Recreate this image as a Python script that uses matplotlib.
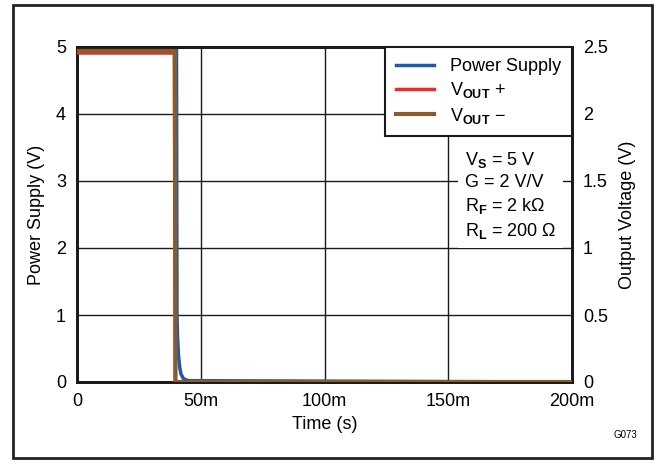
import matplotlib
matplotlib.use("Agg")
import matplotlib.pyplot as plt
from matplotlib.patches import Rectangle

plt.rcParams['font.family'] = ['Liberation Sans', 'DejaVu Sans']
plt.rcParams['mathtext.fontset'] = 'custom'
plt.rcParams['mathtext.rm'] = 'Liberation Sans'
plt.rcParams['mathtext.bf'] = 'Liberation Sans:bold'
plt.rcParams['mathtext.it'] = 'Liberation Sans:italic'

# Data (time in seconds)
t_supply = [0.0, 0.0395, 0.0402, 0.0404, 0.0406, 0.0410, 0.0415, 0.0420, 0.0430, 0.0450, 0.200]
v_supply = [4.98, 4.98, 4.98, 1.00, 0.70, 0.40, 0.22, 0.12, 0.05, 0.02, 0.0]

t_vout_p = [0.0, 0.0394, 0.0397, 0.200]
v_vout_p = [2.455, 2.455, 0.0, 0.0]

t_vout_n = [0.0, 0.0395, 0.0398, 0.200]
v_vout_n = [2.47, 2.47, 0.0, 0.0]

x_ticks = [0, 0.05, 0.10, 0.15, 0.20]
x_labels = ['0', '50m', '100m', '150m', '200m']
yl_ticks = [0, 1, 2, 3, 4, 5]
yr_ticks = [0, 0.5, 1, 1.5, 2, 2.5]
yr_labels = ['0', '0.5', '1', '1.5', '2', '2.5']

c_blue = '#1f5aa6'
c_red = '#ee2a2a'
c_brown = '#8b5a2b'

fig = plt.figure(figsize=(6.62, 4.63), dpi=100)
fig.patches.append(Rectangle((13/662, 1-458/463), (652-13)/662, (458-5)/463,
                             transform=fig.transFigure, fill=False,
                             edgecolor='#222222', linewidth=2))

ax = fig.add_axes([77/662, 1-382/463, (572-77)/662, (382-47)/463])
ax.set_xlim(0, 0.2)
ax.set_ylim(0, 5)
ax.set_xticks(x_ticks)
ax.set_xticklabels(x_labels)
ax.set_yticks(yl_ticks)
ax.grid(True, color='#1a1a1a', linewidth=1.0)
ax.tick_params(length=0, labelsize=13, pad=8)
for s in ax.spines.values():
    s.set_linewidth(2)
    s.set_color('#1a1a1a')
ax.set_xlabel('Time (s)', fontsize=13, labelpad=4)
ax.set_ylabel('Power Supply (V)', fontsize=13, labelpad=8)

l1, = ax.plot(t_supply, v_supply, color=c_blue, lw=2.5, label='Power Supply', zorder=3)

ax2 = ax.twinx()
ax2.set_ylim(0, 2.5)
ax2.set_yticks(yr_ticks)
ax2.set_yticklabels(yr_labels)
ax2.tick_params(length=0, labelsize=13, pad=8)
for s in ax2.spines.values():
    s.set_linewidth(2)
    s.set_color('#1a1a1a')
ax2.set_ylabel('Output Voltage (V)', fontsize=13, labelpad=8)

l2, = ax2.plot(t_vout_p, v_vout_p, color=c_red, lw=2.5, label=r'V$_\mathbf{OUT}$ +', zorder=3)
l3, = ax2.plot(t_vout_n, v_vout_n, color=c_brown, lw=3, label=r'V$_\mathbf{OUT}$ −', zorder=4)

leg = ax2.legend(handles=[l1, l2, l3], loc='upper right', borderaxespad=0,
                 fancybox=False, framealpha=1, edgecolor='#1a1a1a',
                 fontsize=13, handlelength=2.1, handletextpad=0.9,
                 labelspacing=0.3, borderpad=0.6)
leg.get_frame().set_linewidth(1.5)
leg.set_zorder(10)

ax2.text((465-77)/495, (382-150)/335,
         "V$_\\mathbf{S}$ = 5 V\nG = 2 V/V\nR$_\\mathbf{F}$ = 2 kΩ\nR$_\\mathbf{L}$ = 200 Ω",
         transform=ax2.transAxes, ha='left', va='top', fontsize=13,
         linespacing=1.33, zorder=11, multialignment='left',
         bbox=dict(facecolor='white', edgecolor='none', pad=5))

fig.text(625/662, 1-435/463, 'G073', fontsize=7, ha='center', va='center')

fig.savefig('out.png', dpi=100)
